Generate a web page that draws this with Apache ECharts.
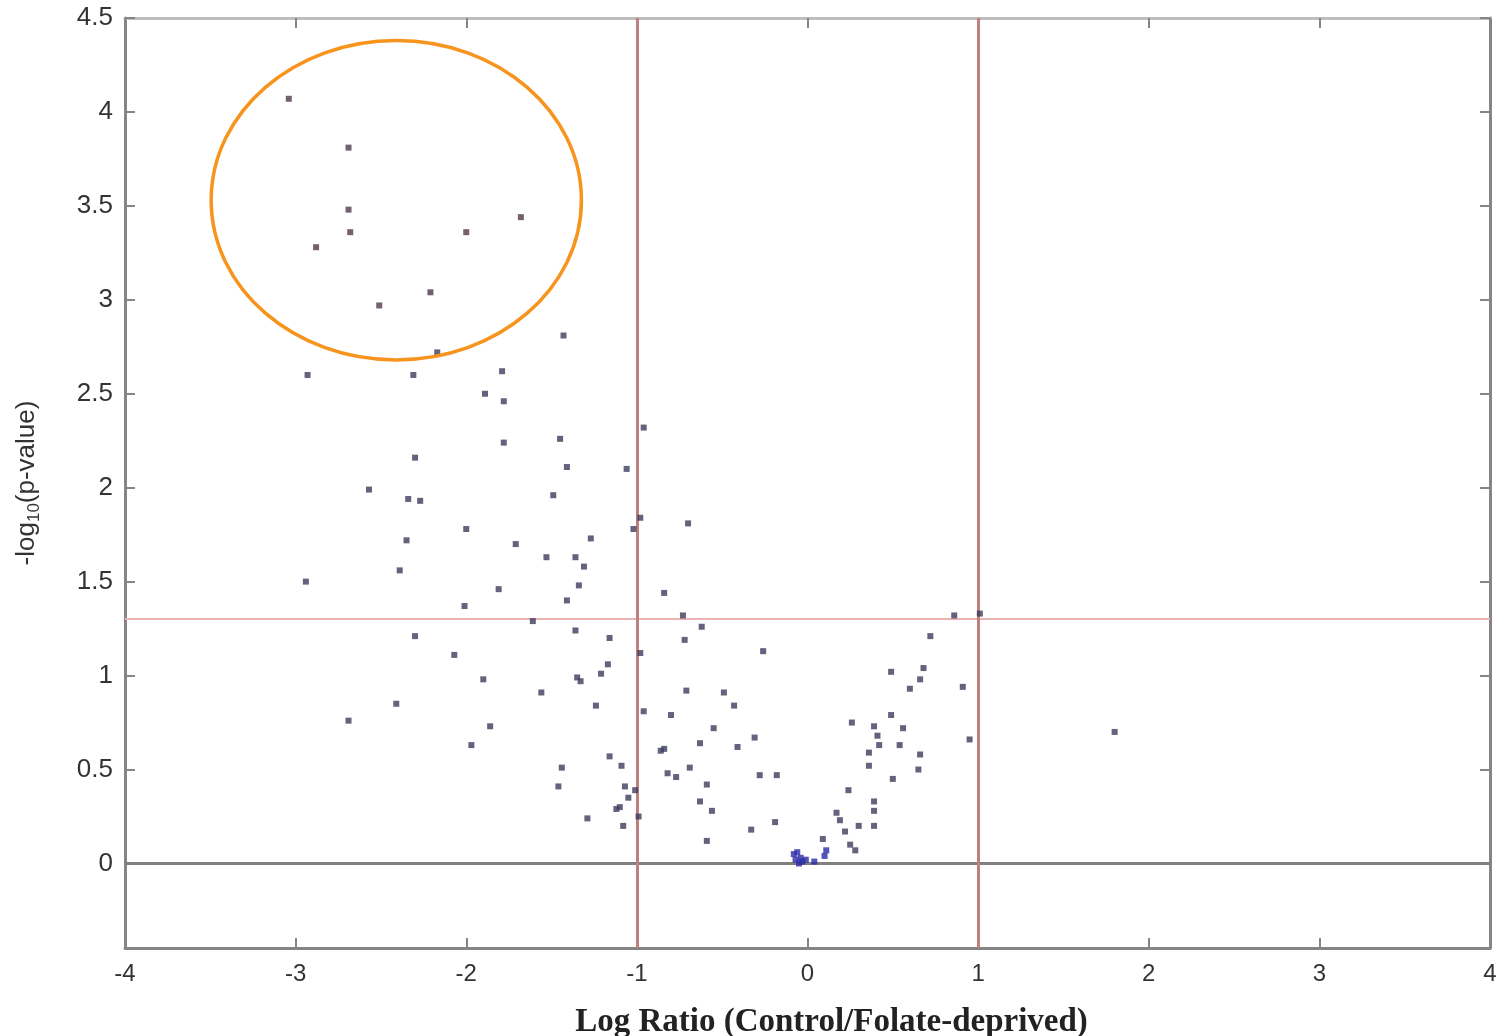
<!DOCTYPE html>
<html>
<head>
<meta charset="utf-8">
<title>Volcano plot</title>
<script src="https://cdn.jsdelivr.net/npm/echarts@6/dist/echarts.min.js"></script>
<style>
  html, body { margin: 0; padding: 0; background: #fff; }
  #chart { width: 1498px; height: 1036px; }
</style>
</head>
<body>
<div id="chart"></div>
<script>
// points inside the orange ring (most significant)
var circledPoints = [
  [-3.04, 4.07], [-2.69, 3.81], [-2.69, 3.48], [-2.68, 3.36], [-2.88, 3.28],
  [-2.00, 3.36], [-1.68, 3.44], [-2.21, 3.04], [-2.51, 2.97]
];

// remaining genes
var otherPoints = [
  [-2.17, 2.72], [-2.93, 2.60], [-2.31, 2.60], [-1.89, 2.50], [-1.43, 2.81], [-1.79, 2.62],
  [-1.78, 2.46], [-0.96, 2.32], [-1.78, 2.24], [-1.45, 2.26], [-2.30, 2.16], [-1.41, 2.11],
  [-1.06, 2.10], [-2.57, 1.99], [-1.49, 1.96], [-2.34, 1.94], [-2.27, 1.93], [-0.98, 1.84],
  [-1.02, 1.78], [-0.70, 1.81], [-2.00, 1.78], [-2.35, 1.72], [-1.27, 1.73], [-1.71, 1.70],
  [-1.53, 1.63], [-1.36, 1.63], [-1.31, 1.58], [-2.39, 1.56], [-1.34, 1.48], [-2.94, 1.50],
  [-0.84, 1.44], [-1.81, 1.46], [-1.41, 1.40], [-2.01, 1.37], [-0.73, 1.32], [-1.61, 1.29],
  [-0.62, 1.26], [-1.36, 1.24], [-1.16, 1.20], [-2.30, 1.21], [-0.72, 1.19], [-0.98, 1.12],
  [-1.17, 1.06], [-2.07, 1.11], [-1.21, 1.01], [-1.90, 0.98], [-1.35, 0.99], [-1.33, 0.97],
  [-0.26, 1.13], [0.86, 1.32], [1.01, 1.33], [0.72, 1.21], [0.49, 1.02], [0.68, 1.04],
  [0.66, 0.98], [0.60, 0.93], [0.91, 0.94], [-0.49, 0.91], [-0.71, 0.92], [-1.56, 0.91],
  [-0.43, 0.84], [-1.24, 0.84], [-0.96, 0.81], [-0.80, 0.79], [-2.41, 0.85], [-2.69, 0.76],
  [-1.86, 0.73], [-1.97, 0.63], [-0.55, 0.72], [-0.31, 0.67], [-0.41, 0.62], [-0.63, 0.64],
  [-0.84, 0.61], [-0.86, 0.60], [-1.16, 0.57], [-1.09, 0.52], [-1.44, 0.51], [-0.69, 0.51],
  [-0.82, 0.48], [-0.77, 0.46], [-0.59, 0.42], [-0.28, 0.47], [-0.18, 0.47], [-1.46, 0.41],
  [-1.07, 0.41], [-1.01, 0.39], [-1.05, 0.35], [-0.63, 0.33], [-1.10, 0.30], [-1.12, 0.29],
  [-0.56, 0.28], [-0.99, 0.25], [-1.29, 0.24], [-1.08, 0.20], [-0.33, 0.18], [-0.19, 0.22],
  [-0.59, 0.12], [0.49, 0.79], [0.26, 0.75], [0.39, 0.73], [0.56, 0.72], [0.41, 0.68],
  [0.42, 0.63], [0.54, 0.63], [0.95, 0.66], [0.66, 0.58], [0.36, 0.59], [0.36, 0.52],
  [0.65, 0.50], [0.50, 0.45], [1.80, 0.70], [0.24, 0.39], [0.39, 0.33], [0.39, 0.28],
  [0.17, 0.27], [0.19, 0.23], [0.30, 0.20], [0.39, 0.20], [0.22, 0.17], [0.09, 0.13],
  [0.25, 0.10], [0.28, 0.07]
];

// blue cluster sitting on the zero line
var nearZeroPoints = [
  [0.11, 0.07], [0.10, 0.04], [0.04, 0.01], [-0.08, 0.05], [-0.06, 0.06],
  [-0.04, 0.03], [-0.07, 0.02], [-0.03, 0.01], [-0.05, 0.00], [-0.01, 0.02]
];

var yTicks = [0, 0.5, 1, 1.5, 2, 2.5, 3, 3.5, 4, 4.5];
var foldCutoffs = [-1, 1];          // log ratio cut-offs
var pCutoff = 1.301;                // -log10(0.05)

// orange ring annotation (data units)
var ringCenter = [-2.41, 3.53];
var ringRadius = [1.085, 0.85];

var chart = echarts.init(document.getElementById('chart'));

var axisGray = '#858585';
var labelFont = 'Liberation Sans, Arial, sans-serif';

var option = {
  animation: false,
  backgroundColor: '#fff',
  grid: { left: 125, right: 8, top: 18, bottom: 88, outerBoundsMode: 'none' },
  xAxis: [
    {
      type: 'value', min: -4, max: 4, interval: 1,
      axisLine: { onZero: false, lineStyle: { color: axisGray, width: 3 } },
      axisTick: { inside: true, length: 10, lineStyle: { color: axisGray, width: 2 } },
      axisLabel: { margin: 14, fontSize: 24, color: '#333', fontFamily: labelFont },
      splitLine: { show: false },
      name: 'Log Ratio (Control/Folate-deprived)',
      nameLocation: 'middle',
      nameGap: 58,
      nameTextStyle: {
        fontFamily: 'Liberation Serif, Times New Roman, serif',
        fontWeight: 'bold', fontSize: 33, color: '#222',
        padding: [0, 0, 0, 48]
      }
    },
    {
      type: 'value', min: -4, max: 4, interval: 1, position: 'top',
      axisLine: { onZero: false, lineStyle: { color: '#bdbdbd', width: 3 } },
      axisTick: { inside: true, length: 10, lineStyle: { color: axisGray, width: 2 } },
      axisLabel: { show: false },
      splitLine: { show: false }
    }
  ],
  yAxis: [
    {
      type: 'value', min: -0.45, max: 4.5,
      axisLine: { onZero: false, lineStyle: { color: axisGray, width: 3 } },
      axisTick: { inside: true, length: 10, customValues: yTicks, lineStyle: { color: axisGray, width: 2 } },
      axisLabel: { margin: 12, fontSize: 26, color: '#333', fontFamily: labelFont, customValues: yTicks },
      splitLine: { show: false },
      name: '-log{sub|10}(p-value)',
      nameLocation: 'middle',
      nameGap: 82,
      nameTextStyle: {
        fontFamily: labelFont, fontSize: 26, color: '#333',
        rich: {
          sub: { fontFamily: labelFont, fontSize: 17, color: '#333', padding: [16, 0, 0, 0] }
        }
      }
    },
    {
      type: 'value', min: -0.45, max: 4.5, position: 'right',
      axisLine: { onZero: false, lineStyle: { color: axisGray, width: 3 } },
      axisTick: { inside: true, length: 10, customValues: yTicks, lineStyle: { color: axisGray, width: 2 } },
      axisLabel: { show: false },
      splitLine: { show: false }
    }
  ],
  series: [
    {
      type: 'scatter',
      name: 'genes',
      symbol: 'rect',
      symbolSize: 6,
      itemStyle: { color: '#3c3c5e' },
      data: otherPoints,
      z: 5,
      markLine: {
        silent: true,
        symbol: 'none',
        label: { show: false },
        data: [
          { yAxis: 0, lineStyle: { color: '#808080', width: 3, type: 'solid' } },
          { yAxis: pCutoff, lineStyle: { color: '#ebb4b4', width: 2, type: 'solid' } },
          { xAxis: foldCutoffs[0], lineStyle: { color: '#bf7f7f', width: 3, type: 'solid' } },
          { xAxis: foldCutoffs[1], lineStyle: { color: '#bf7f7f', width: 3, type: 'solid' } }
        ]
      }
    },
    {
      type: 'scatter',
      name: 'circled',
      symbol: 'rect',
      symbolSize: 6,
      itemStyle: { color: '#503a4c' },
      data: circledPoints,
      z: 5
    },
    {
      type: 'scatter',
      name: 'near zero',
      symbol: 'rect',
      symbolSize: 6,
      itemStyle: { color: '#2a2aa8' },
      data: nearZeroPoints,
      z: 5
    }
  ]
};

chart.setOption(option);

// ring drawn through the axes so it follows the data scale
var c = chart.convertToPixel({ gridIndex: 0 }, ringCenter);
var edge = chart.convertToPixel({ gridIndex: 0 }, [ringCenter[0] + ringRadius[0], ringCenter[1] + ringRadius[1]]);
chart.setOption({
  graphic: [{
    type: 'ellipse',
    shape: { cx: c[0], cy: c[1], rx: edge[0] - c[0], ry: c[1] - edge[1] },
    style: { fill: 'none', stroke: '#f7941d', lineWidth: 3.5 },
    silent: true,
    z: 100
  }]
});
</script>
</body>
</html>
